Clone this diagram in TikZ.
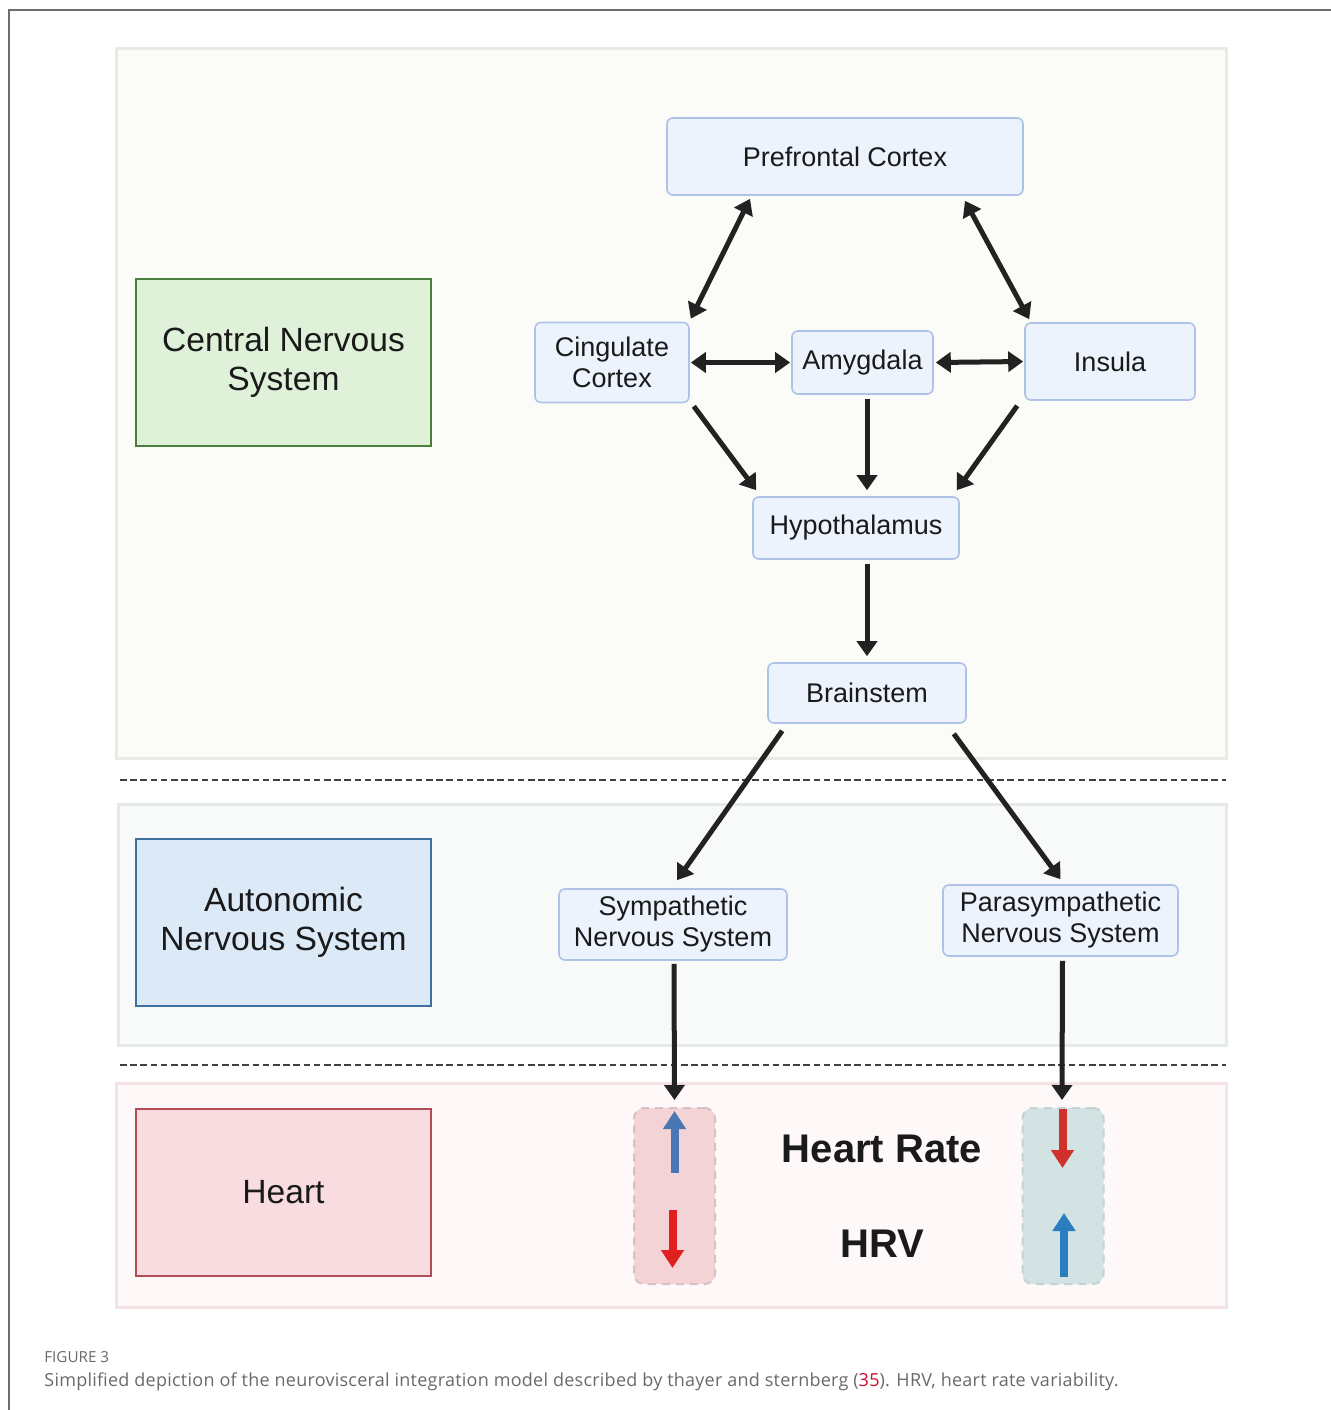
\documentclass[tikz,border=0pt]{standalone}
\usepackage{fontspec}
\setmainfont{Liberation Sans}
\newfontfamily\capfont{Open Sans}
\usetikzlibrary{arrows.meta,calc}
\definecolor{framegray}{HTML}{6E6E6E}
\definecolor{cnsPfill}{HTML}{FBFCF7}
\definecolor{cnsPdraw}{HTML}{E8EBE2}
\definecolor{ansPfill}{HTML}{F8FAFA}
\definecolor{ansPdraw}{HTML}{E6E9E9}
\definecolor{hrtPfill}{HTML}{FEF8F8}
\definecolor{hrtPdraw}{HTML}{F3E3E5}
\definecolor{cnsfill}{HTML}{DFF2D9}
\definecolor{cnsdraw}{HTML}{4B7D3B}
\definecolor{ansfill}{HTML}{DCE9F7}
\definecolor{ansdraw}{HTML}{40709E}
\definecolor{hrtfill}{HTML}{F8DCDF}
\definecolor{hrtdraw}{HTML}{B04D57}
\definecolor{nfill}{HTML}{EDF3FD}
\definecolor{ndraw}{HTML}{AEC2E8}
\definecolor{dLfill}{HTML}{F3D3D6}
\definecolor{dLdraw}{HTML}{D8C0C3}
\definecolor{dRfill}{HTML}{D3E2E2}
\definecolor{dRdraw}{HTML}{C3D2D2}
\definecolor{blueL}{HTML}{4A77B4}
\definecolor{redL}{HTML}{E0201E}
\definecolor{redR}{HTML}{D0312D}
\definecolor{blueR}{HTML}{2A7DBF}
\definecolor{arrblack}{HTML}{222222}
\definecolor{txt}{HTML}{1A1A1A}
\definecolor{capgray}{HTML}{6A6A6A}
\definecolor{capred}{HTML}{C8102E}
\begin{document}
\begin{tikzpicture}[x=0.5pt,y=-0.5pt,
  panel/.style={line width=1.5pt},
  bigbox/.style={draw, line width=1.3pt, inner sep=0pt, minimum width=147.5pt, minimum height=83.5pt,
    align=center, text=txt, font=\fontsize{16.8}{19.5}\selectfont},
  nbox/.style={draw=ndraw, fill=nfill, line width=0.8pt, rounded corners=3pt, inner sep=0pt,
    align=center, text=txt, font=\fontsize{13.5}{15.5}\selectfont},
  arr/.style={draw=arrblack, line width=2.5pt, -{Triangle[length=7.5pt,width=10pt]}},
  barr/.style={draw=arrblack, line width=2.5pt, {Triangle[length=7.5pt,width=10pt]}-{Triangle[length=7.5pt,width=10pt]}},
  dbox/.style={dashed, dash pattern=on 4pt off 3pt, line width=1pt, rounded corners=5pt, inner sep=0pt,
    minimum width=40.5pt, minimum height=88pt},
  carr/.style={line width=4pt, -{Triangle[length=9pt,width=11pt]}},
  sep/.style={draw=black!75, line width=1.4pt, dash pattern=on 3.3pt off 1.8pt}
]
\useasboundingbox (0,0) rectangle (1331,1410);
\fill[white] (0,0) rectangle (1331,1410);
% frame
\draw[framegray, line width=1pt] (9,1410) -- (9,10) -- (1331,10);
% panels
\path[panel, fill=cnsPfill, draw=cnsPdraw] (116,48) rectangle (1226,758);
\path[panel, fill=ansPfill, draw=ansPdraw] (118,804) rectangle (1226,1045);
\path[panel, fill=hrtPfill, draw=hrtPdraw] (116,1083) rectangle (1226,1307);
\draw[sep] (120,780) -- (1226,780);
\draw[sep] (120,1065) -- (1226,1065);
% left boxes
\node[bigbox, draw=cnsdraw, fill=cnsfill] (cns) at (283.5,362.5) {Central Nervous\\System};
\node[bigbox, draw=ansdraw, fill=ansfill] (ans) at (283.5,922.5) {Autonomic\\Nervous System};
\node[bigbox, draw=hrtdraw, fill=hrtfill] (hrt) at (283.5,1192.5) {Heart};
% nodes
\node[nbox, minimum width=178pt, minimum height=38.5pt] (pfc) at (845,156.5) {Prefrontal Cortex};
\node[nbox, minimum width=77pt, minimum height=40pt] (cing) at (612,362.5) {Cingulate\\Cortex};
\node[nbox, minimum width=70.5pt, minimum height=31.5pt] (amyg) at (862.5,362.5) {Amygdala};
\node[nbox, minimum width=85pt, minimum height=38.5pt] (ins) at (1110,361.5) {Insula};
\node[nbox, minimum width=103pt, minimum height=31pt] (hypo) at (856,528) {Hypothalamus};
\node[nbox, minimum width=99pt, minimum height=30pt] (brain) at (867,693) {Brainstem};
\node[nbox, minimum width=114pt, minimum height=35.5pt] (symp) at (673,924.5) {Sympathetic\\Nervous System};
\node[nbox, minimum width=117.5pt, minimum height=35.5pt] (para) at (1060.5,920.5) {Parasympathetic\\Nervous System};
% dashed boxes in heart panel
\node[dbox, draw=dLdraw, fill=dLfill] (hl) at (674.5,1196) {};
\node[dbox, draw=dRdraw, fill=dRfill] (hr) at (1063,1196) {};
% texts
\node[text=txt, font=\bfseries\fontsize{20}{24}\selectfont] (hrate) at (882,1149) {Heart Rate};
\node[text=txt, font=\bfseries\fontsize{20}{24}\selectfont] (hrv) at (882,1244) {HRV};
% connectors
\draw[barr] ($(pfc.south)+(-95,3)$) -- ($(cing.north east)+(1,-3)$);
\draw[barr] ($(pfc.south)+(120,5)$) -- ($(ins.north west)+(5,-3)$);
\draw[barr] ($(cing.east)+(1,0)$) -- ($(amyg.west)+(-1,0)$);
\draw[barr] ($(amyg.east)+(2,0)$) -- ($(ins.west)+(-1,0)$);
\draw[arr] ($(cing.south east)+(4,3)$) -- ($(hypo.north west)+(4,-6)$);
\draw[arr] ($(amyg.south)+(4.5,4)$) -- ($(hypo.north)+(11,-6)$);
\draw[arr] ($(ins.south west)+(-7,5)$) -- ($(hypo.north east)+(-3,-6)$);
\draw[arr] ($(hypo.south)+(11,4)$) -- ($(brain.north)+(0,-6)$);
\draw[arr] ($(brain.south west)+(15,7)$) -- ($(symp.north)+(4,-8)$);
\draw[arr] ($(brain.south east)+(-13,10)$) -- ($(para.north)+(0,-5)$);
\draw[arr] ($(symp.south)+(1,3)$) -- ($(hl.north)+(0,-7)$);
\draw[arr] ($(para.south)+(2,4)$) -- ($(hr.north)+(-1,-7)$);
% coloured arrows
\draw[carr, blueL] (674.5,1173) -- (674.5,1111);
\draw[carr, redL] (672.5,1210) -- (672.5,1268);
\draw[carr, redR] (1062.5,1109) -- (1062.5,1168);
\draw[carr, blueR] (1064,1277) -- (1064,1213);
% caption
\node[anchor=base west, inner sep=0pt, text=capgray, font=\capfont\fontsize{7.6}{9}\selectfont] (fig) at (44,1362) {FIGURE 3};
\node[anchor=base west, inner sep=0pt, text=capgray, font=\capfont\addfontfeature{LetterSpace=1.4}\fontsize{9}{11}\selectfont] (cap) at (44,1386)
  {Simplified depiction of the neurovisceral integration model described by thayer and sternberg (\textcolor{capred}{35}). HRV, heart rate variability.};
\end{tikzpicture}
\end{document}
